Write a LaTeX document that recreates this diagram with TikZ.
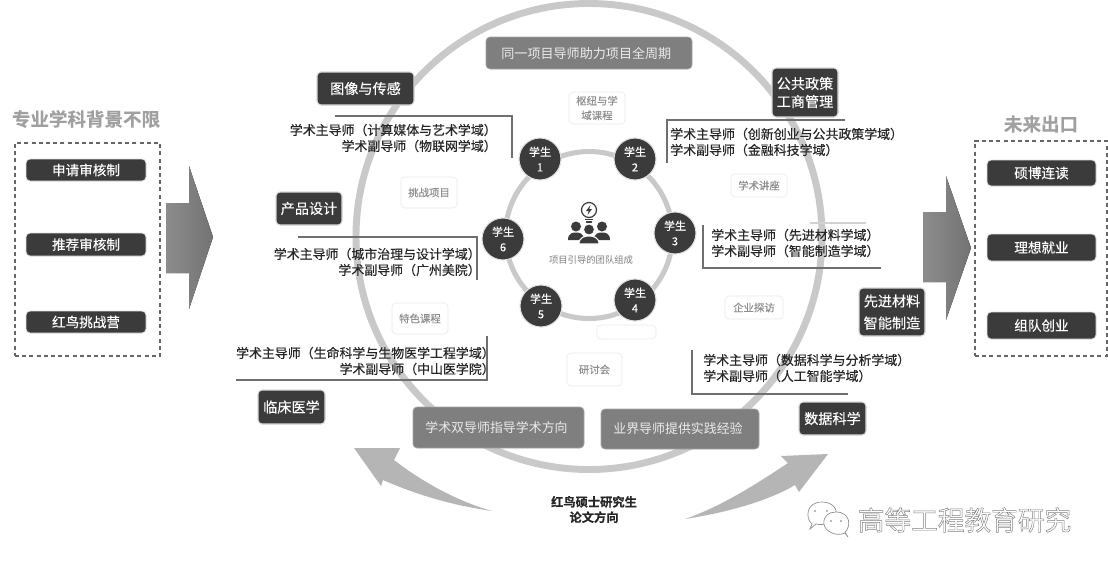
\documentclass[tikz,border=0pt]{standalone}
\usepackage{fontspec}
\setmainfont{Noto Sans CJK SC}
\newfontfamily\midweight{Noto Sans CJK SC}[FakeBold=0.22]
\newfontfamily\heavyweight{Noto Sans CJK SC Bold}[FakeBold=0.4]
\usetikzlibrary{shapes.geometric}
\definecolor{inkdark}{HTML}{3B3B3B}
\definecolor{midbox}{HTML}{7F7F7F}
\definecolor{ringgray}{HTML}{C9C9C9}
\definecolor{rulegray}{HTML}{6F6F6F}
\definecolor{headgray}{HTML}{A0A0A0}
\definecolor{taggray}{HTML}{8E8E8E}
\definecolor{swoosh}{HTML}{B5B5B5}
\newcommand{\sz}[2]{\fontsize{#1}{#2}\selectfont}
% Places a node from its corner coordinates (x1,y1)-(x2,y2), given in the picture's units
\newcommand{\cornerbox}[7]{%
  \pgfmathsetmacro\bcx{(#3+#5)/2}\pgfmathsetmacro\bcy{(#4+#6)/2}%
  \pgfmathsetmacro\bw{(#5-#3)*0.75}\pgfmathsetmacro\bh{(#6-#4)*0.75}%
  \node[#2,minimum width=\bw pt,minimum height=\bh pt] (#1) at (\bcx,\bcy) {#7};}
\tikzset{
  plate/.style={rectangle,rounded corners=3pt,inner sep=0pt,align=center},
  listbox/.style={plate,fill=inkdark,draw=black!12,line width=.6pt,text=white,font=\midweight\sz{10.2}{13}},
  fieldbox/.style={plate,fill=inkdark,draw=black!15,line width=.8pt,text=white,font=\midweight\sz{10.6}{13.5}},
  midbox/.style={plate,fill=midbox,draw=black!35,line width=.5pt,text=white!92!black},
  tagbox/.style={plate,fill=white,draw=black!8,line width=.5pt,text=taggray,font=\midweight\sz{7.8}{11}},
  student/.style={circle,fill=inkdark,draw=black!12,line width=.8pt,minimum size=31.5pt,inner sep=0pt,align=center,text=white,font=\midweight\sz{8.3}{11.5}},
  tutor/.style={inner sep=0pt,text=black!85,font=\midweight\sz{9.7}{12}},
  rulee/.style={draw=rulegray,line width=.8pt},
  dashbox/.style={draw=black!60,line width=.8pt,dash pattern=on 3pt off 2.4pt},
  blockarrow/.style={left color=black!45,right color=black!55,draw=none},
  swooshfill/.style={fill=swoosh,draw=none},
  ring/.style={draw=ringgray},
}
\begin{document}
\begin{tikzpicture}[x=0.75pt,y=-0.75pt]
\useasboundingbox (0,0) rectangle (1108,569);
\fill[white] (0,0) rectangle (1108,569);

% Large outer ring and student ring
\draw[ring,line width=5.2pt] (589,236.5) circle [radius=233];
\draw[ring,line width=3.8pt] (589,235) circle [radius=83.5];

% Admission column
\node[inner sep=0pt,text=headgray,font=\heavyweight\sz{13.9}{16}] (ltitle) at (86,119) {专业学科背景不限};
\cornerbox{lframe}{dashbox,rectangle,inner sep=0pt}{15}{143}{160}{356}{}
\cornerbox{l1}{listbox}{26}{159}{146}{181}{申请审核制}
\cornerbox{l2}{listbox}{26}{233}{146}{256}{推荐审核制}
\cornerbox{l3}{listbox}{26}{311}{146}{333}{红鸟挑战营}
\fill[blockarrow] (166,203) -- (189,203) -- (189,166) -- (213,237) -- (189,309) -- (189,273) -- (166,273) -- cycle;

% Outcome column
\node[inner sep=0pt,text=headgray,font=\heavyweight\sz{13.9}{16}] (rtitle) at (1041,124) {未来出口};
\cornerbox{rframe}{dashbox,rectangle,inner sep=0pt}{975}{141}{1107}{356}{}
\cornerbox{r1}{listbox}{987}{160}{1096}{186}{硕博连读}
\cornerbox{r2}{listbox}{987}{234}{1096}{261}{理想就业}
\cornerbox{r3}{listbox}{987}{312}{1096}{339}{组队创业}
\fill[blockarrow] (923,212) -- (946,212) -- (946,176) -- (971,248) -- (946,320) -- (946,282) -- (923,282) -- cycle;

% Programme boxes on the rings
\cornerbox{full}{midbox,font=\sz{9.8}{12}}{486}{37}{692}{69}{同一项目导师助力项目全周期\kern4pt}
\cornerbox{dual}{midbox,font=\sz{9.7}{12}}{413}{407}{584}{448}{学术双导师指导学术方向\kern3pt}
\cornerbox{indus}{midbox,font=\sz{9.7}{12}}{601}{409}{759}{449}{业界导师提供实践经验\kern3pt}

% Activity tags
\cornerbox{t1}{tagbox}{569}{92}{625}{124}{枢纽与学\\域课程}
\cornerbox{t2}{tagbox}{401}{177}{457}{208}{挑战项目}
\cornerbox{t3}{tagbox}{731}{174}{787}{197}{学术讲座}
\cornerbox{t4}{tagbox}{725}{296}{783}{319}{企业探访}
\cornerbox{t5}{tagbox}{392}{303}{448}{334}{特色课程}
\cornerbox{t6}{tagbox}{567}{353}{622}{386}{研讨会}
\cornerbox{t7}{tagbox}{597}{325}{656}{339}{}

% Students around the team
\node[student] (s1) at (540,159) {学生\\1};
\node[student] (s2) at (635,159) {学生\\2};
\node[student] (s3) at (675,233) {学生\\3};
\node[student] (s4) at (635,300) {学生\\4};
\node[student] (s5) at (541,306) {学生\\5};
\node[student] (s6) at (503,239) {学生\\6};

% Team icon: idea bulb above three people
\draw[inkdark,line width=.9pt] (589,210) circle [radius=7.5];
\draw[inkdark,line width=1pt,line cap=round] (585.5,219.5) -- (592.5,219.5) (586.5,222) -- (591.5,222);
\fill[inkdark] (590.5,205) -- (586,211) -- (588.8,211) -- (587.5,215) -- (592,209) -- (589.2,209) -- cycle;
\fill[inkdark] (576,226.5) circle [radius=5] (602,226.5) circle [radius=5];
\fill[inkdark] (568,240) .. controls (568,233) and (573,232.5) .. (576,232.5) .. controls (579,232.5) and (584,233) .. (584,240) -- cycle;
\fill[inkdark] (594,240) .. controls (594,233) and (599,232.5) .. (602,232.5) .. controls (605,232.5) and (610,233) .. (610,240) -- cycle;
\fill[inkdark,draw=white,line width=.8pt] (589,229.5) circle [radius=5.6];
\fill[inkdark,draw=white,line width=.8pt] (579,244) .. controls (579,237) and (585,236) .. (589,236) .. controls (593,236) and (599,237) .. (599,244) -- cycle;
\node[inner sep=0pt,text=black!50,font=\sz{7}{9}] (team) at (591,260) {项目引导的团队组成};

% Research fields
\cornerbox{f1}{fieldbox}{317}{72}{414}{105}{图像与传感}
\cornerbox{f2}{fieldbox}{276}{192}{342}{225}{产品设计}
\cornerbox{f3}{fieldbox}{258}{390}{325}{424}{临床医学}
\cornerbox{f4}{fieldbox}{772}{68}{838}{117}{公共政策\\工商管理}
\cornerbox{f5}{fieldbox,font=\midweight\sz{10.6}{16.5}}{859}{288}{925}{336}{先进材料\\智能制造}
\cornerbox{f6}{fieldbox}{799}{402}{866}{435}{数据科学}

% Tutor labels and their corner rules
\node[tutor,anchor=east,align=right] (a1) at (497,138) {学术主导师（计算媒体与艺术学域）\\学术副导师（物联网学域）};
\node[tutor,anchor=east,align=right] (a2) at (481,262) {学术主导师（城市治理与设计学域）\\学术副导师（广州美院）};
\node[tutor,anchor=east,align=right] (a3) at (495,361) {学术主导师（生命科学与生物医学工程学域）\\学术副导师（中山医学院）};
\node[tutor,anchor=west,align=left] (a4) at (670,142) {学术主导师（创新创业与公共政策学域）\\学术副导师（金融科技学域）};
\node[tutor,anchor=west,align=left] (a5) at (711,243) {学术主导师（先进材料学域）\\学术副导师（智能制造学域）};
\node[tutor,anchor=west,align=left] (a6) at (703,368) {学术主导师（数据科学与分析学域）\\学术副导师（人工智能学域）};

\coordinate (r1a) at (335,116); \coordinate (r1b) at (512,116); \coordinate (r1c) at (512,158);
\coordinate (r2a) at (298,237); \coordinate (r2b) at (477,237); \coordinate (r2c) at (477,280);
\coordinate (r3a) at (487,336); \coordinate (r3b) at (487,380); \coordinate (r3c) at (236,380);
\coordinate (r4a) at (667,163); \coordinate (r4b) at (667,120); \coordinate (r4c) at (845,120);
\coordinate (r5a) at (703,225); \coordinate (r5b) at (703,268); \coordinate (r5c) at (881,268);
\coordinate (r6a) at (692,350); \coordinate (r6b) at (692,394); \coordinate (r6c) at (848,394);
\coordinate (r7a) at (810,223); \coordinate (r7b) at (866,223);
\draw[rulee] (r1a) -- (r1b) -- (r1c);
\draw[rulee] (r2a) -- (r2b) -- (r2c);
\draw[rulee] (r3a) -- (r3b) -- (r3c);
\draw[rulee] (r4a) -- (r4b) -- (r4c);
\draw[rulee] (r5a) -- (r5b) -- (r5c);
\draw[rulee] (r6a) -- (r6b) -- (r6c);
\draw[draw=black!18,line width=.8pt] (r7a) -- (r7b);

% Thesis direction and its two sweeping arrows
\node[inner sep=0pt,align=center,text=black!85,font=\heavyweight\sz{9.2}{11.5}] (thesis) at (594,509.5) {红鸟硕士研究生\\论文方向};
\fill[swooshfill] (354,448) -- (400,448) -- (394,460) .. controls (425,484) and (460,502) .. (492,511)
  .. controls (450,505) and (415,494) .. (383,480) -- (381,486) -- cycle;
\fill[swooshfill] (828,454) -- (781,456) -- (788,463) .. controls (755,485) and (720,507) .. (685,519)
  .. controls (730,512) and (770,500) .. (795,485) -- (799,492) -- cycle;

% Account mark: two chat bubbles and an outlined name
\draw[black!45,fill=white,line width=.5pt] (812,524) .. controls (805,518) and (806,502) .. (822,502) .. controls (832,502) and (838,509) .. (836,515) .. controls (834,522) and (824,526) .. (816,524) -- (810,529) -- cycle;
\draw[black!45,fill=white,line width=.5pt] (845,532) .. controls (851,527) and (851,512) .. (836,512) .. controls (822,512) and (820,527) .. (830,532) .. controls (835,535) and (841,535) .. (845,533) -- (848,537) -- cycle;
\fill[black!55] (815,511) circle [radius=.9] (827,511) circle [radius=.9] (831,521) circle [radius=.9] (841,521) circle [radius=.9];
\node[inner sep=0pt,text=white,font=\sz{20}{24}] (mark) at (964.5,520)
  {\special{pdf:code q 0.5 G 0.35 w 2 Tr}高等工程教育研究\special{pdf:code 0 Tr Q}};
\end{tikzpicture}
\end{document}
